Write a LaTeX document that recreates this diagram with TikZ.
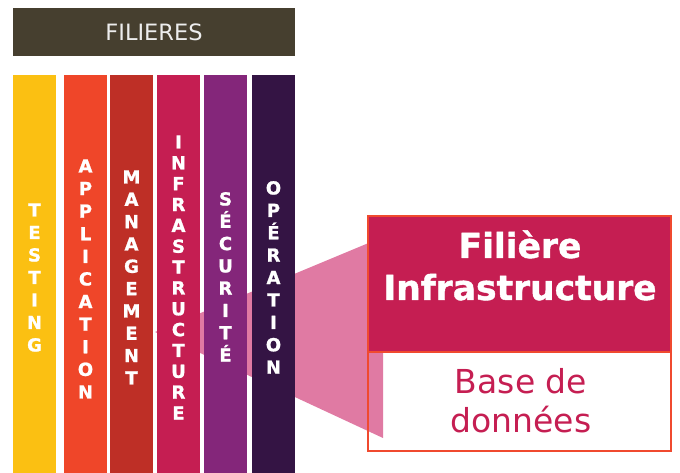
\documentclass[tikz,border=0pt]{standalone}
\usepackage{fontspec}
\setmainfont{DejaVu Sans}
\newfontfamily\heavyfont[FakeBold=1.2]{DejaVu Sans Bold}
\usetikzlibrary{calc}
\definecolor{titlebar}{HTML}{463F2F}
\definecolor{testing}{HTML}{FBC012}
\definecolor{application}{HTML}{EF4629}
\definecolor{management}{HTML}{BE2F26}
\definecolor{infra}{HTML}{C51E52}
\definecolor{securite}{HTML}{84267A}
\definecolor{operation}{HTML}{341444}
\definecolor{frameline}{HTML}{F04A2F}
\definecolor{wedge}{HTML}{E07AA3}
\tikzset{
  letter/.style={text=white, font=\fontsize{18}{18}\selectfont\heavyfont, anchor=base, inner sep=0pt},
  boxtitle/.style={text=white, font=\fontsize{34.5}{40}\selectfont\heavyfont, anchor=base, inner sep=0pt},
  boxtext/.style={text=infra, font=\fontsize{33}{38}\selectfont, anchor=base, inner sep=0pt},
  frame/.style={draw=frameline, line width=1.6pt}
}

\begin{document}
\begin{tikzpicture}[x=1pt,y=1pt]
\useasboundingbox (0,0) rectangle (680,473);
\node[fill=titlebar, text=white!93!black, font=\fontsize{22.5}{22.5}\selectfont,
  minimum width=282, minimum height=48, inner sep=0pt] (filieres) at (154,441) {FILIERES};

% cone towards the detail box
\fill[wedge] (155,141) -- (383,236) -- (383,35) -- cycle;

% columns
\fill[testing]     (13,0)  rectangle (56,398);
\fill[application] (64,0)  rectangle (107,398);
\fill[management]  (110,0) rectangle (153,398);
\fill[infra]       (157,0) rectangle (200,398);
\fill[securite]    (204,0) rectangle (247,398);
\fill[operation]   (252,0) rectangle (295,398);

\foreach \l [count=\i from 0] in {T,E,S,T,I,N,G}
  \node[letter] (testing-\i) at (34.5,{256.5-22.5*\i}) {\l};
\foreach \l [count=\i from 0] in {A,P,P,L,I,C,A,T,I,O,N}
  \node[letter] (application-\i) at (85.5,{300.5-22.6*\i}) {\l};
\foreach \l [count=\i from 0] in {M,A,N,A,G,E,M,E,N,T}
  \node[letter] (management-\i) at (131.5,{289.5-22.33*\i}) {\l};
\foreach \l [count=\i from 0] in {I,N,F,R,A,S,T,R,U,C,T,U,R,E}
  \node[letter] (infra-\i) at (178.5,{324.5-20.85*\i}) {\l};
\foreach \l [count=\i from 0] in {S,É,C,U,R,I,T,É}
  \node[letter] (securite-\i) at (225.5,{267.5-22.3*\i}) {\l};
\foreach \l [count=\i from 0] in {O,P,É,R,A,T,I,O,N}
  \node[letter] (operation-\i) at (273.5,{278.5-22.4*\i}) {\l};

% detail box
\fill[infra] (368,121) rectangle (671,257);
\node[boxtitle] (title-a) at (520,215) {Filière};
\node[boxtitle] (title-b) at (520,173) {Infrastructure};
\node[boxtext] (detail-a) at (521,79) {Base de};
\node[boxtext] (detail-b) at (521,40) {données};
\draw[frame] (368,22) rectangle (671,257);
\draw[frame] (368,121) -- (671,121);
\end{tikzpicture}
\end{document}
